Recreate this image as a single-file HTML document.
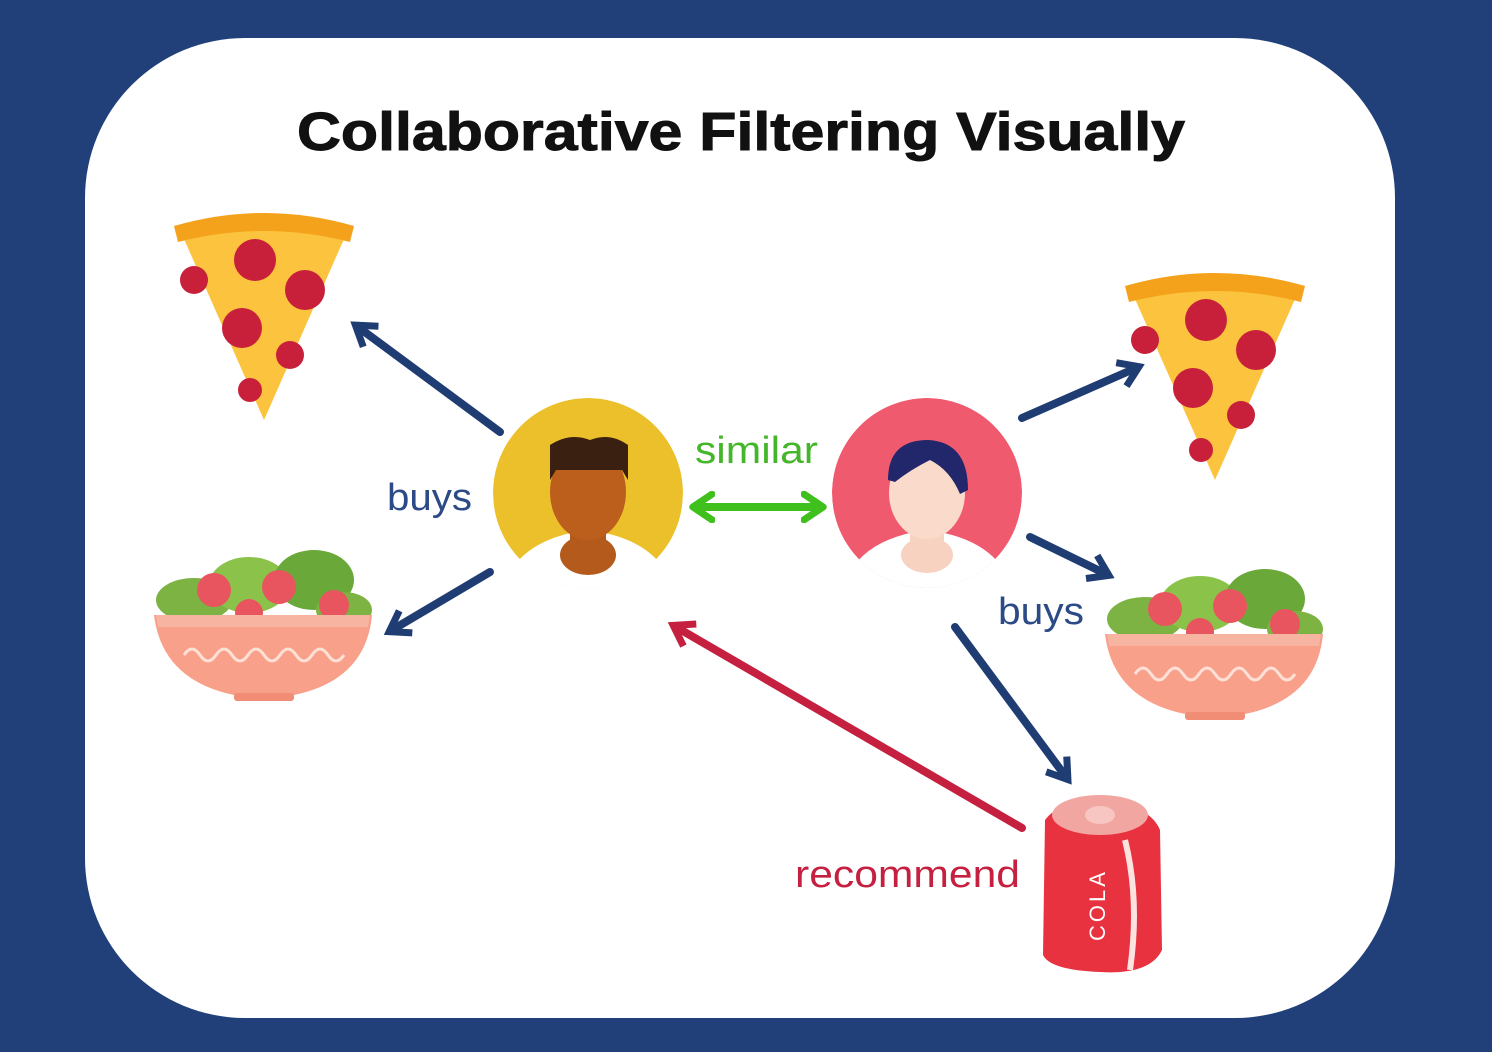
<!DOCTYPE html>
<html><head><style>
html,body{margin:0;padding:0;background:#21407a;}
svg{display:block;}
text{font-family:"Liberation Sans",sans-serif;}
</style></head><body>
<svg width="1492" height="1052" viewBox="0 0 1492 1052">
<defs>
<marker id="nb" viewBox="0 0 10 10" refX="6" refY="5" markerWidth="4" markerHeight="4" orient="auto-start-reverse"><path d="M1,1 L7,5 L1,9" fill="none" stroke="#1f3d73" stroke-width="2.2" stroke-linejoin="miter"/></marker>
<marker id="rb" viewBox="0 0 10 10" refX="6" refY="5" markerWidth="4" markerHeight="4" orient="auto-start-reverse"><path d="M1,1 L7,5 L1,9" fill="none" stroke="#c5203f" stroke-width="2.2"/></marker>
<marker id="gb" viewBox="0 0 10 10" refX="6" refY="5" markerWidth="4" markerHeight="4" orient="auto-start-reverse"><path d="M1,1 L7,5 L1,9" fill="none" stroke="#3fc01c" stroke-width="2.2" stroke-linecap="round" stroke-linejoin="round"/></marker>
<clipPath id="c1"><circle cx="588" cy="493" r="95"/></clipPath>
<clipPath id="c2"><circle cx="927" cy="493" r="95"/></clipPath>
<g id="pizza">
<path d="M0,0 L84,190 L168,0 Z" fill="#fcc43e"/>
<path d="M-6,-4 Q84,-30 174,-4 L170,12 Q84,-10 -2,12 Z" fill="#f4a21b"/>
<circle cx="75" cy="30" r="21" fill="#c8203a"/>
<circle cx="125" cy="60" r="20" fill="#c8203a"/>
<circle cx="62" cy="98" r="20" fill="#c8203a"/>
<circle cx="14" cy="50" r="14" fill="#c8203a"/>
<circle cx="110" cy="125" r="14" fill="#c8203a"/>
<circle cx="70" cy="160" r="12" fill="#c8203a"/>
</g>
<g id="salad">
<ellipse cx="40" cy="45" rx="38" ry="22" fill="#7cb342"/>
<ellipse cx="95" cy="30" rx="40" ry="28" fill="#8bc34a"/>
<ellipse cx="160" cy="25" rx="40" ry="30" fill="#6aa83a"/>
<ellipse cx="190" cy="55" rx="28" ry="18" fill="#7cb342"/>
<circle cx="60" cy="35" r="17" fill="#e8555f"/>
<circle cx="125" cy="32" r="17" fill="#e8555f"/>
<circle cx="180" cy="50" r="15" fill="#e8555f"/>
<circle cx="95" cy="58" r="14" fill="#e8555f"/>
<path d="M0,60 L218,60 Q212,125 140,140 L80,140 Q8,125 0,60 Z" fill="#f9a08a"/>
<path d="M2,60 L216,60 L214,72 L4,72 Z" fill="#f7b4a1"/>
<path d="M30,100 q8,-12 16,0 q8,12 16,0 q8,-12 16,0 q8,12 16,0 q8,-12 16,0 q8,12 16,0 q8,-12 16,0 q8,12 16,0 q8,-12 16,0 q8,12 16,0" fill="none" stroke="#fde1d6" stroke-width="3"/>
<rect x="80" y="138" width="60" height="8" rx="3" fill="#f28d75"/>
</g>
</defs>
<rect x="85" y="38" width="1310" height="980" rx="160" fill="#fff"/>
<text x="297" y="150" textLength="888" lengthAdjust="spacingAndGlyphs" font-size="54" font-weight="bold" fill="#111" stroke="#111" stroke-width="1">Collaborative Filtering Visually</text>

<use href="#pizza" x="180" y="230"/>
<use href="#pizza" x="1131" y="290"/>
<use href="#salad" x="154" y="555"/>
<use href="#salad" x="1105" y="574"/>

<g clip-path="url(#c1)">
<circle cx="588" cy="493" r="95" fill="#ecc02a"/>
<path d="M500,600 Q510,540 588,530 Q666,540 676,600 Z" fill="#fff"/>
<rect x="570" y="520" width="36" height="30" fill="#b35a1c"/>
<ellipse cx="588" cy="555" rx="28" ry="20" fill="#b35a1c"/>
<ellipse cx="588" cy="492" rx="38" ry="48" fill="#bd5f1c"/>
<path d="M550,480 L550,445 Q570,432 590,440 Q610,432 628,445 L628,480 L622,470 L556,470 Z" fill="#3a2010"/>
</g>
<g clip-path="url(#c2)">
<circle cx="927" cy="493" r="95" fill="#ef5a6f"/>
<path d="M840,600 Q850,540 927,530 Q1005,540 1015,600 Z" fill="#fff"/>
<rect x="910" y="520" width="34" height="30" fill="#f8d2c0"/>
<ellipse cx="927" cy="555" rx="26" ry="18" fill="#f8d2c0"/>
<ellipse cx="927" cy="493" rx="38" ry="46" fill="#fadbcb"/>
<path d="M888,480 Q888,440 928,440 Q968,442 968,490 L960,494 Q950,470 930,460 Q910,470 895,482 Z" fill="#22266a"/>
</g>

<g>
<path d="M1045,820 Q1060,800 1100,800 Q1150,805 1160,830 L1162,950 Q1150,975 1100,972 Q1050,970 1043,955 Z" fill="#e8323f"/>
<ellipse cx="1100" cy="815" rx="48" ry="20" fill="#f2a6a2"/>
<ellipse cx="1100" cy="815" rx="15" ry="9" fill="#f7c6c2"/>
<path d="M1125,840 Q1140,900 1130,970" fill="none" stroke="#fde3e0" stroke-width="6"/>
<text x="1105" y="905" transform="rotate(-90 1105 905)" text-anchor="middle" font-size="22" fill="#fff" letter-spacing="3">COLA</text>
</g>

<g stroke="#1f3d73" stroke-width="8" fill="none" stroke-linecap="round">
<line x1="500" y1="432" x2="358" y2="327" marker-end="url(#nb)"/>
<line x1="490" y1="572" x2="392" y2="630" marker-end="url(#nb)"/>
<line x1="1022" y1="418" x2="1136" y2="368" marker-end="url(#nb)"/>
<line x1="1030" y1="537" x2="1106" y2="574" marker-end="url(#nb)"/>
<line x1="955" y1="627" x2="1066" y2="777" marker-end="url(#nb)"/>
</g>
<line x1="1022" y1="828" x2="676" y2="627" stroke="#c5203f" stroke-width="8" stroke-linecap="round" marker-end="url(#rb)"/>
<line x1="696" y1="507" x2="820" y2="507" stroke="#3fc01c" stroke-width="8" stroke-linecap="round" marker-start="url(#gb)" marker-end="url(#gb)"/>

<text x="387" y="510" font-size="38" textLength="85" lengthAdjust="spacingAndGlyphs" fill="#2b4a86">buys</text>
<text x="695" y="463" font-size="38" textLength="123" lengthAdjust="spacingAndGlyphs" fill="#45b52a">similar</text>
<text x="998" y="624" font-size="38" textLength="86" lengthAdjust="spacingAndGlyphs" fill="#2b4a86">buys</text>
<text x="795" y="887" font-size="38" textLength="225" lengthAdjust="spacingAndGlyphs" fill="#c5203f">recommend</text>
</svg>
</body></html>
